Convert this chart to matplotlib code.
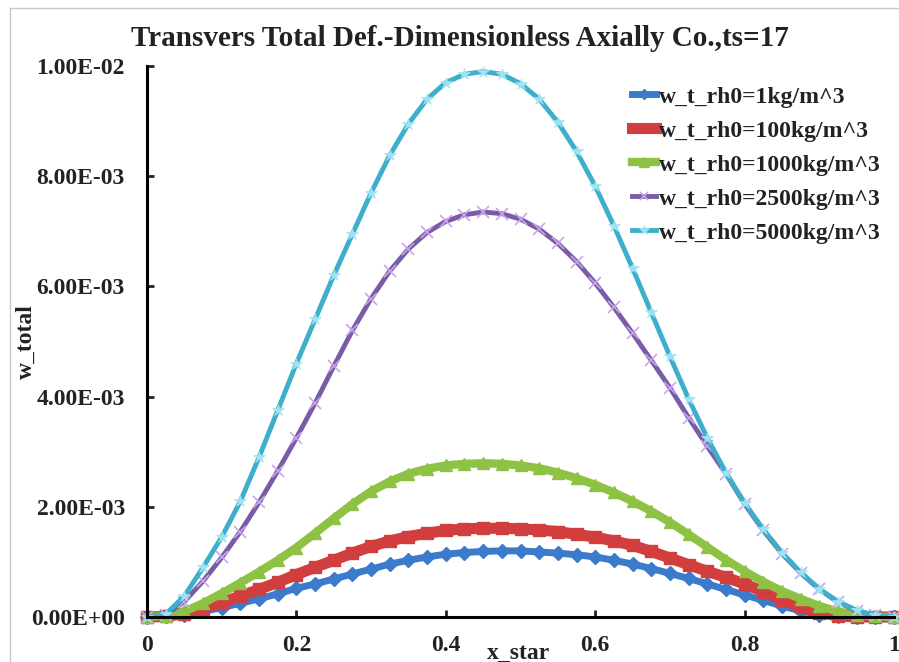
import matplotlib
matplotlib.use("Agg")
import matplotlib.pyplot as plt
from matplotlib.patches import Rectangle

# x_star positions
x_star = [i * 0.025 for i in range(41)]

w_rho_1 = [0, 0.00001, 0.00004, 0.0001, 0.00017, 0.00025, 0.00033, 0.00042, 0.00052, 0.0006,
           0.00069, 0.00078, 0.00087, 0.00096, 0.00103, 0.00109, 0.00114, 0.00117, 0.00119, 0.0012,
           0.0012, 0.00118, 0.00116, 0.00113, 0.00109, 0.00103, 0.00096, 0.00088, 0.00079, 0.0007,
           0.0006, 0.0005, 0.0004, 0.0003, 0.0002, 0.00011, 0.00004, 0.00001, 0, 0, 0]
w_rho_100 = [0, 0.00001, 0.00006, 0.00015, 0.00026, 0.00038, 0.0005, 0.00063, 0.00077, 0.0009,
             0.00103, 0.00116, 0.00128, 0.00138, 0.00146, 0.00152, 0.00157, 0.0016, 0.00161, 0.00161,
             0.0016, 0.00158, 0.00155, 0.0015, 0.00145, 0.00138, 0.0013, 0.00119, 0.00107, 0.00095,
             0.00083, 0.00072, 0.0006, 0.00046, 0.00031, 0.00018, 0.00008, 0.00002, 0, 0, 0]
w_rho_1000 = [0, 0.00002, 0.0001, 0.00025, 0.00043, 0.00062, 0.00082, 0.00103, 0.00126, 0.00152,
              0.00179, 0.00205, 0.00228, 0.00246, 0.0026, 0.00269, 0.00275, 0.00278, 0.00279, 0.00278,
              0.00275, 0.0027, 0.00262, 0.00252, 0.0024, 0.00226, 0.0021, 0.00192, 0.00172, 0.0015,
              0.00127, 0.00104, 0.00083, 0.00064, 0.00047, 0.00033, 0.0002, 0.0001, 0.00004, 0.00001, 0]
w_rho_2500 = [0, 0.00004, 0.00028, 0.00065, 0.00108, 0.00155, 0.00208, 0.00265, 0.00325, 0.00388,
              0.00455, 0.0052, 0.00578, 0.00628, 0.00668, 0.00698, 0.00718, 0.0073, 0.00735, 0.00732,
              0.00722, 0.00704, 0.00678, 0.00645, 0.00606, 0.00562, 0.00515, 0.00466, 0.00416, 0.00362,
              0.0031, 0.0026, 0.00205, 0.00157, 0.00115, 0.0008, 0.0005, 0.00027, 0.00011, 0.00003, 0]
w_rho_5000 = [0, 0.00005, 0.00038, 0.0009, 0.00145, 0.0021, 0.0029, 0.00375, 0.0046, 0.0054,
              0.0062, 0.00695, 0.0077, 0.00838, 0.00895, 0.0094, 0.0097, 0.00985, 0.0099, 0.00985,
              0.00968, 0.0094, 0.00898, 0.00845, 0.00782, 0.0071, 0.00633, 0.00553, 0.00473, 0.00396,
              0.00325, 0.00262, 0.00207, 0.00159, 0.00117, 0.00081, 0.00051, 0.00028, 0.00012, 0.00003, 0]

labels = ["w_t_rh0=1kg/m^3", "w_t_rh0=100kg/m^3", "w_t_rh0=1000kg/m^3",
          "w_t_rh0=2500kg/m^3", "w_t_rh0=5000kg/m^3"]
y_ticks = [0, 0.002, 0.004, 0.006, 0.008, 0.01]
y_tick_labels = ["0.00E+00", "2.00E-03", "4.00E-03", "6.00E-03", "8.00E-03", "1.00E-02"]
x_ticks = [0, 0.2, 0.4, 0.6, 0.8, 1]
x_tick_labels = ["0", "0.2", "0.4", "0.6", "0.8", "1"]

series = [w_rho_1, w_rho_100, w_rho_1000, w_rho_2500, w_rho_5000]
styles = [
    dict(color="#3C7BCB", lw=5, marker="D", ms=7, mfc="#3C7BCB", mec="#3C7BCB"),
    dict(color="#D23E3E", lw=8, marker="s", ms=8, mfc="#D23E3E", mec="#D23E3E"),
    dict(color="#8EC244", lw=6, marker="^", ms=9, mfc="#8EC244", mec="#8EC244"),
    dict(color="#7A5CA6", lw=3.5, marker="x", ms=8, mfc="none", mec="#C8A6EE", mew=1.2),
    dict(color="#3DAFCB", lw=3.5, marker="*", ms=9, mfc="#9FE3F2", mec="#9FE3F2", mew=0.5),
]

plt.rcParams["font.family"] = ["Liberation Serif", "DejaVu Serif"]
plt.rcParams["font.weight"] = "bold"

W, H = 899, 662
fig = plt.figure(figsize=(W / 100, H / 100), dpi=100)
fig.patch.set_facecolor("white")

# chart-area border
fig.patches.append(Rectangle((10 / W, -0.1), 2, 1.1 - 8 / H, transform=fig.transFigure,
                             fill=False, edgecolor="#c8c8c8", lw=1))

ax = fig.add_axes([147 / W, 45 / H, 747 / W, 551 / H])
for ys, st, lab in zip(series, styles, labels):
    ax.plot(x_star, ys, label=lab, clip_on=False, solid_joinstyle="round", **st)

ax.set_xlim(0, 1)
ax.set_ylim(0, 0.01)
for s in ("top", "right"):
    ax.spines[s].set_visible(False)
for s in ("left", "bottom"):
    ax.spines[s].set_linewidth(2.2)
    ax.spines[s].set_color("black")

ax.set_xticks(x_ticks)
ax.set_xticklabels(x_tick_labels)
ax.set_yticks(y_ticks)
ax.set_yticklabels(y_tick_labels)
ax.tick_params(axis="both", direction="in", length=5, width=2, labelsize=17, colors="#222222")
ax.tick_params(axis="x", pad=13)
ax.tick_params(axis="y", pad=16)
for t in ax.get_xticklabels() + ax.get_yticklabels():
    t.set_fontweight("bold")

fig.text(460 / W, 1 - 38 / H, "Transvers Total Def.-Dimensionless Axially Co.,ts=17",
         ha="center", va="center", fontsize=21, fontweight="bold", color="#222222")
fig.text(519 / W, 1 - 653 / H, "x_star", ha="center", va="center", fontsize=17,
         fontweight="bold", color="#222222")
fig.text(26 / W, 1 - 342 / H, "w_total", ha="center", va="center", rotation=90,
         fontsize=17, fontweight="bold", color="#222222")

leg = ax.legend(loc="upper left", bbox_to_anchor=(632 / W, 1 - 86 / H),
                bbox_transform=fig.transFigure, frameon=False, fontsize=17,
                handlelength=1.0, handletextpad=0.12, labelspacing=0.53,
                borderpad=0, borderaxespad=0, markerscale=0.8)
for t in leg.get_texts():
    t.set_fontweight("bold")
    t.set_color("#222222")

fig.savefig("out.png", dpi=100)
